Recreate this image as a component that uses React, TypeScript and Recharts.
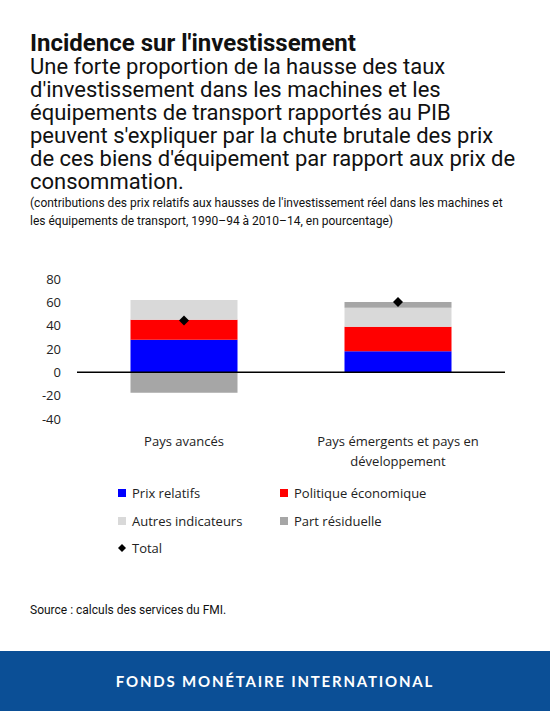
import React from 'react'
import {
  Bar,
  ComposedChart,
  Line,
  ReferenceLine,
  XAxis,
  YAxis,
} from 'recharts'

const categories = ['Pays avancés', 'Pays émergents et pays en développement']
const prixRelatifs = [28, 18]
const politiqueEconomique = [17, 21]
const autresIndicateurs = [17, 16.3]
const partResiduelle = [-17.5, 5]
const total = [44.5, 60.3]
const yTicks = [-40, -20, 0, 20, 40, 60, 80]

const data = categories.map((name, i) => ({
  name,
  prix: prixRelatifs[i],
  politique: politiqueEconomique[i],
  autres: autresIndicateurs[i],
  residuelle: partResiduelle[i],
  total: total[i],
}))

const BLUE = '#0000FF'
const RED = '#FF0000'
const LIGHT = '#D9D9D9'
const DARK = '#A6A6A6'

const legendItems = [
  { label: 'Prix relatifs', color: BLUE, col: 0, row: 0 },
  { label: 'Politique économique', color: RED, col: 1, row: 0 },
  { label: 'Autres indicateurs', color: LIGHT, col: 0, row: 1 },
  { label: 'Part résiduelle', color: DARK, col: 1, row: 1 },
  { label: 'Total', color: null, col: 0, row: 2 },
]

const chartFont = '"Open Sans", sans-serif'

function wrap(label: string, max = 26) {
  const words = label.split(' ')
  const lines: string[] = []
  let cur = ''
  words.forEach((w) => {
    const next = cur ? cur + ' ' + w : w
    if (next.length > max && cur) {
      lines.push(cur)
      cur = w
    } else {
      cur = next
    }
  })
  if (cur) lines.push(cur)
  return lines
}

function CategoryTick({ x, y, payload }: any) {
  const lines = wrap(payload.value)
  return (
    <text x={x} y={y} textAnchor="middle" fontSize={13} fontFamily={chartFont} fill="#222">
      {lines.map((l, i) => (
        <tspan key={i} x={x} dy={i === 0 ? 26.5 : 20}>
          {l}
        </tspan>
      ))}
    </text>
  )
}

function Diamond({ cx, cy }: any) {
  if (cx == null || cy == null) return null
  const r = 5
  return (
    <polygon
      points={`${cx},${cy - r} ${cx + r},${cy} ${cx},${cy + r} ${cx - r},${cy}`}
      fill="#000"
    />
  )
}

export default function App() {
  return (
    <div
      style={{
        position: 'absolute',
        top: 0,
        left: 0,
        width: 550,
        height: 711,
        background: '#fff',
        overflow: 'hidden',
        fontFamily: 'Roboto, sans-serif',
        color: '#111',
      }}
    >
      <div
        style={{
          position: 'absolute',
          top: 29.5,
          left: 30,
          fontSize: 24,
          lineHeight: '26px',
          fontWeight: 700,
        }}
      >
        Incidence sur l'investissement
      </div>
      <div
        style={{
          position: 'absolute',
          top: 54.7,
          left: 30,
          fontSize: 22,
          lineHeight: '23px',
          whiteSpace: 'nowrap',
        }}
      >
        Une forte proportion de la hausse des taux
        <br />
        d'investissement dans les machines et les
        <br />
        équipements de transport rapportés au PIB
        <br />
        peuvent s'expliquer par la chute brutale des prix
        <br />
        de ces biens d'équipement par rapport aux prix de
        <br />
        consommation.
      </div>
      <div
        style={{
          position: 'absolute',
          top: 194,
          left: 30,
          fontSize: 12,
          lineHeight: '18.4px',
          whiteSpace: 'nowrap',
        }}
      >
        (contributions des prix relatifs aux hausses de l'investissement réel dans les machines et
        <br />
        les équipements de transport, 1990–94 à 2010–14, en pourcentage)
      </div>

      <div style={{ position: 'absolute', top: 250, left: 0 }}>
        <ComposedChart
          width={550}
          height={230}
          data={data}
          stackOffset="sign"
          barCategoryGap="25%"
          margin={{ top: 29, right: 45, left: 17, bottom: 0 }}
        >
          <XAxis
            dataKey="name"
            axisLine={false}
            tickLine={false}
            tickSize={0}
            tickMargin={0}
            height={61}
            interval={0}
            tick={<CategoryTick />}
          />
          <YAxis
            domain={[-40, 80]}
            ticks={yTicks}
            axisLine={false}
            tickLine={false}
            tickSize={0}
            tickMargin={16}
            width={60}
            tick={{ fontSize: 13, fontFamily: chartFont, fill: '#222' }}
          />
          <Bar dataKey="prix" stackId="a" fill={BLUE} isAnimationActive={false} />
          <Bar dataKey="politique" stackId="a" fill={RED} isAnimationActive={false} />
          <Bar dataKey="autres" stackId="a" fill={LIGHT} isAnimationActive={false} />
          <Bar dataKey="residuelle" stackId="a" fill={DARK} isAnimationActive={false} />
          <ReferenceLine y={0} stroke="#000" strokeWidth={1.5} />
          <Line
            dataKey="total"
            stroke="none"
            dot={<Diamond />}
            activeDot={false}
            isAnimationActive={false}
          />
        </ComposedChart>
      </div>

      {legendItems.map((it) => {
        const cy = [492.5, 521, 548][it.row]
        const left = it.col === 0 ? 118 : 280
        return (
          <div key={it.label}>
            {it.color ? (
              <div
                style={{
                  position: 'absolute',
                  left,
                  top: cy - 4,
                  width: 8,
                  height: 8,
                  background: it.color,
                }}
              />
            ) : (
              <svg
                style={{ position: 'absolute', left: left - 1, top: cy - 5 }}
                width={10}
                height={10}
              >
                <polygon points="5,1 9,5 5,9 1,5" fill="#000" />
              </svg>
            )}
            <div
              style={{
                position: 'absolute',
                left: left + 14,
                top: cy - 10,
                lineHeight: '20px',
                fontSize: 13,
                fontFamily: chartFont,
                color: '#222',
                whiteSpace: 'nowrap',
              }}
            >
              {it.label}
            </div>
          </div>
        )
      })}

      <div
        style={{
          position: 'absolute',
          top: 603,
          left: 30,
          fontSize: 12,
          lineHeight: '14px',
        }}
      >
        Source : calculs des services du FMI.
      </div>

      <div
        style={{
          position: 'absolute',
          top: 651,
          left: 0,
          width: 550,
          height: 60,
          background: '#0B4F96',
          color: '#fff',
          display: 'flex',
          alignItems: 'center',
          justifyContent: 'center',
          fontFamily: 'Lato, sans-serif',
          fontWeight: 700,
          fontSize: 15,
          letterSpacing: '1.8px',
        }}
      >
        FONDS MONÉTAIRE INTERNATIONAL
      </div>
    </div>
  )
}
